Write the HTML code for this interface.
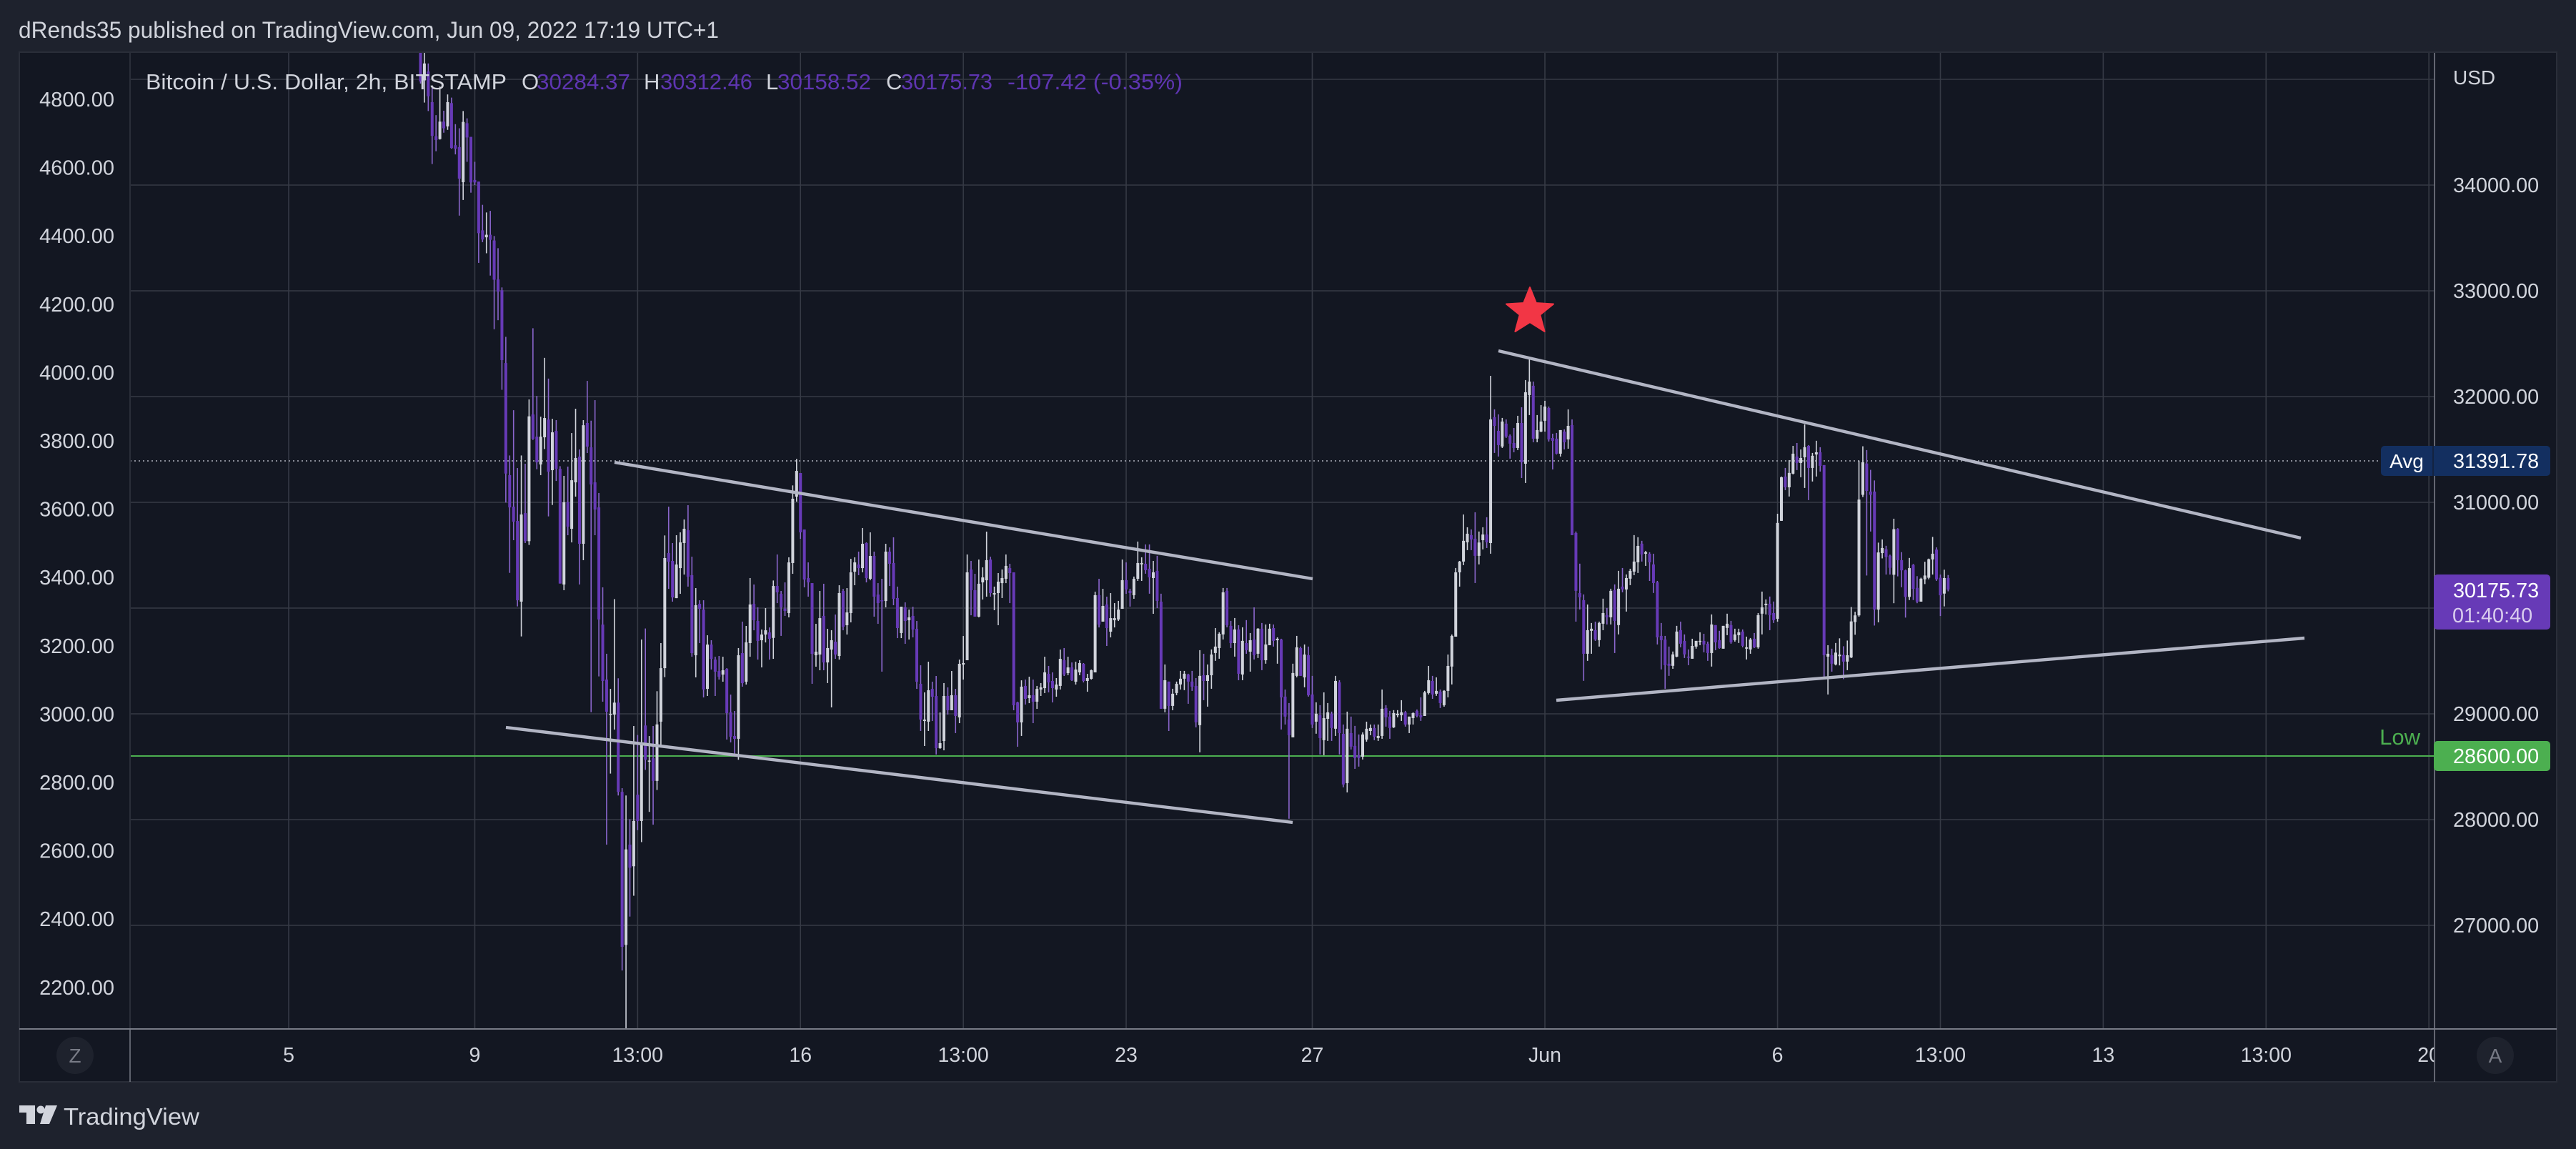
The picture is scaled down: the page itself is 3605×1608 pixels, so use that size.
<!DOCTYPE html>
<html lang="en">
<head>
<meta charset="utf-8">
<title>Bitcoin / U.S. Dollar chart</title>
<style>
html,body{margin:0;padding:0;background:#1e222d;}
svg{display:block;}
text{font-family:"Liberation Sans",sans-serif;fill:#d1d4dc;}
</style>
</head>
<body>
<svg id="chart" xmlns="http://www.w3.org/2000/svg" width="3605" height="1608" viewBox="0 0 3605 1608">
  <defs>
    <clipPath id="plot-clip"><rect x="182" y="74" width="3225" height="1366"/></clipPath>
    <clipPath id="time-clip"><rect x="182" y="1441" width="3225" height="73"/></clipPath>
  </defs>
  <rect x="0" y="0" width="3605" height="1608" fill="#1e222d"/>
  <text x="26" y="53" font-size="32" textLength="980" lengthAdjust="spacingAndGlyphs">dRends35 published on TradingView.com, Jun 09, 2022 17:19 UTC+1</text>
  <rect x="27" y="73" width="3551" height="1441" fill="#131722" stroke="#2a2e39" stroke-width="2"/>

  <g id="grid"></g>
  <line x1="182" y1="645" x2="3332" y2="645" stroke="#8a8d98" stroke-width="2" stroke-dasharray="2 4"/>
  <line x1="182" y1="1058" x2="3407" y2="1058" stroke="#4caf50" stroke-width="2"/>
  <g id="candles" clip-path="url(#plot-clip)"></g>

  <g stroke="#b2b5c4" stroke-width="4.4">
    <line x1="860" y1="647" x2="1837" y2="810"/>
    <line x1="708" y1="1018" x2="1809" y2="1151"/>
    <line x1="2097" y1="491" x2="3220" y2="753"/>
    <line x1="2178" y1="980" x2="3225" y2="893"/>
  </g>
  <polygon points="2141,402 2149.8,424 2174,425.5 2155.3,440.6 2161.6,464 2141,451 2120.4,464 2126.7,440.6 2108,425.5 2132.2,424" fill="#f23645" stroke="#f23645" stroke-width="2" stroke-linejoin="round"/>

  <g font-size="31">
    <text x="204" y="125" textLength="505" lengthAdjust="spacingAndGlyphs">Bitcoin / U.S. Dollar, 2h, BITSTAMP</text>
    <text x="730" y="125">O</text>
    <text x="751" y="125" textLength="131" lengthAdjust="spacingAndGlyphs" style="fill:#5e35b1">30284.37</text>
    <text x="901" y="125">H</text>
    <text x="924" y="125" textLength="129" lengthAdjust="spacingAndGlyphs" style="fill:#5e35b1">30312.46</text>
    <text x="1072" y="125">L</text>
    <text x="1088" y="125" textLength="131" lengthAdjust="spacingAndGlyphs" style="fill:#5e35b1">30158.52</text>
    <text x="1240" y="125">C</text>
    <text x="1261" y="125" textLength="128" lengthAdjust="spacingAndGlyphs" style="fill:#5e35b1">30175.73</text>
    <text x="1410" y="125" textLength="245" lengthAdjust="spacingAndGlyphs" style="fill:#5e35b1">-107.42 (-0.35%)</text>
  </g>

  <line x1="182" y1="74" x2="182" y2="1440" stroke="#2a2e39" stroke-width="2"/>
  <line x1="182" y1="1440" x2="182" y2="1514" stroke="#787b86" stroke-width="1.5"/>
  <line x1="27" y1="1440" x2="3578" y2="1440" stroke="#787b86" stroke-width="2"/>
  <g id="left-axis"></g>
  <g id="right-axis"></g>
  <g id="time-axis" clip-path="url(#time-clip)"></g>
  <line x1="3407" y1="74" x2="3407" y2="1514" stroke="#787b86" stroke-width="1.6"/>
  <text x="3433" y="118" font-size="28">USD</text>

  <g>
    <rect x="3332" y="624" width="237" height="42" rx="5" fill="#132f60"/>
    <line x1="3405" y1="624" x2="3405" y2="666" stroke="#131722" stroke-width="1"/>
    <text x="3368" y="655" font-size="28" text-anchor="middle" style="fill:#ffffff">Avg</text>
    <text x="3433" y="655" font-size="28.8" style="fill:#ffffff">31391.78</text>
  </g>
  <g>
    <rect x="3406" y="804" width="163" height="77" rx="5" fill="#673ab7"/>
    <text x="3433" y="836" font-size="28.8" style="fill:#ffffff">30175.73</text>
    <text x="3432" y="871" font-size="28.8" style="fill:#d9cdee">01:40:40</text>
  </g>
  <text x="3387" y="1042" font-size="31" text-anchor="end" style="fill:#4caf50">Low</text>
  <g>
    <rect x="3406" y="1037" width="163" height="42" rx="5" fill="#4caf50"/>
    <text x="3433" y="1068" font-size="28.8" style="fill:#ffffff">28600.00</text>
  </g>

  <g>
    <circle cx="105" cy="1477" r="26" fill="#1e222d"/>
    <text x="105" y="1487" font-size="28" text-anchor="middle" style="fill:#787b86">Z</text>
  </g>
  <g>
    <circle cx="3492" cy="1477" r="26" fill="#1e222d"/>
    <text x="3492" y="1487" font-size="28" text-anchor="middle" style="fill:#787b86">A</text>
  </g>

  <g>
    <path fill="#d1d4dc" d="M27 1547H49V1573H37V1557H27ZM64 1547H80L69 1573H56Z"/>
    <circle cx="57" cy="1553" r="5.5" fill="#d1d4dc"/>
    <text x="89" y="1574" font-size="33" textLength="190" lengthAdjust="spacingAndGlyphs">TradingView</text>
  </g>
</svg>
<script>
const firstBar = 34;
const opens = [
35400,34990,35074,34784,34462,34435,34600,34555,34775,34377,
34359,34027,34585,34456,34048,34033,33572,33506,33530,33476,
33108,33005,32317,31257,30959,30824,30061,30898,30633,31831,
31621,31358,31615,31783,31304,31675,31317,30223,31000,30750,
31189,31432,30608,31750,31520,31189,30952,29844,29324,28995,
28993,29106,28262,26815,27763,27559,28235,27987,28890,28548,
28580,28366,28926,29432,30520,30446,30094,30378,30615,30736,
30311,29554,30040,29986,29236,29655,29513,29405,29371,29425,
29014,28790,28764,29574,29304,29669,30040,29878,29696,29750,
29770,29718,30209,30135,29995,29953,30426,31054,31277,30743,
30284,30236,29554,29561,29926,29486,29608,29682,29547,30162,
29838,29953,30344,30412,30378,30615,30277,30493,30128,30074,
30067,30534,30426,30095,29764,30007,29885,29926,29804,29284,
28932,28926,29236,29169,28676,28743,29169,29034,29176,28966,
29466,29507,30365,30169,29919,30243,30263,30459,30128,30142,
30236,30277,30378,30338,29108,28919,29264,29149,29176,29115,
29230,29243,29378,29311,29230,29264,29507,29385,29439,29304,
29392,29473,29311,29331,29392,30122,29872,30034,29777,29885,
29892,29993,30264,30163,30122,30277,30413,30419,30372,30284,
30352,30061,29048,29305,29075,29197,29278,29332,29372,29305,
29264,28893,29365,29311,29365,29575,29622,29751,30163,29832,
29669,29798,29372,29669,29588,29703,29568,29805,29507,29649,
29811,29696,29703,29163,28947,28778,29359,29622,29345,29555,
29183,28926,28987,28751,28953,29001,28859,29298,28811,28345,
28818,28697,28609,28595,28757,28838,28866,28771,28791,29055,
28974,28872,28987,28987,29014,28899,28960,29028,28987,28980,
29197,29311,29190,29210,29082,29217,29447,29730,30338,30440,
30622,30690,30656,30494,30642,30696,30615,31805,31676,31528,
31744,31629,31561,31514,31750,31365,32014,32102,31602,31669,
31771,31892,31608,31602,31460,31669,31595,31730,30710,30142,
30075,29568,29785,29791,29697,29852,29933,29913,30170,29839,
30203,30176,30278,30345,30433,30609,30514,30514,30413,30244,
29737,29703,29474,29454,29541,29791,29690,29541,29521,29636,
29683,29690,29663,29575,29839,29697,29616,29812,29839,29697,
29744,29778,29616,29609,29710,29629,29947,30028,30041,29953,
29899,30825,31244,31142,31271,31433,31372,31426,31534,31325,
31453,31473,31352,29541,29555,29467,29545,29557,29494,29533,
29868,29931,31071,31367,31102,31102,29986,30520,30556,30495,
30315,30749,30453,30357,30106,30408,30191,30061,30272,30287,
30460,30553,30287,30137,30284.37];
const highs = [
35500,35300,35150,34917,34661,34932,34703,34857,34827,34576,
34537,34700,34631,34456,34220,34033,33813,33741,33756,33518,
33403,33032,32565,31443,31871,31324,31443,31365,31973,32646,
32006,31810,32366,32170,31790,31777,31342,31250,31338,31655,
31885,31500,31777,32148,31772,31966,31088,30196,29568,29236,
30085,29336,28297,28228,28004,28885,28800,29703,29807,28790,
28885,29214,29669,30687,30959,30615,30689,30716,30838,30973,
30486,30189,30074,30074,29743,29696,29540,29547,29540,29432,
29182,29027,29622,29872,29831,30284,30223,30007,29797,30000,
29817,30261,30507,30162,30243,30480,31160,31410,31277,30743,
30432,30236,29851,30162,30230,29804,29791,29939,30216,30182,
30189,30466,30480,30534,30757,30621,30716,30534,30236,30277,
30608,30574,30669,30203,30013,30054,29986,30013,29878,29459,
29203,29493,29304,29358,29013,29291,29250,29405,29236,29513,
29736,30507,30446,30324,30459,30385,30723,30486,30203,30331,
30365,30507,30419,30338,29115,29317,29324,29351,29324,29264,
29291,29540,29453,29392,29338,29608,29622,29540,29486,29493,
29507,29480,29378,29419,30155,30277,30182,30108,30142,30047,
30068,30459,30432,30183,30298,30629,30480,30602,30602,30446,
30494,30136,29467,29305,29237,29305,29406,29406,29379,29406,
29338,29602,29568,29467,29609,29811,29771,30190,30190,29879,
29906,29838,29818,29886,29764,30007,29811,29859,29845,29852,
29845,29723,29710,29230,29102,29474,29737,29636,29656,29636,
29359,29109,29082,29203,29102,29021,29359,29318,28899,29021,
28974,28886,28805,28825,28926,28899,28899,28899,29230,29082,
29028,29035,29035,29129,29028,28974,29014,29041,29156,29217,
29453,29359,29345,29230,29224,29561,29750,30379,30446,30885,
30764,30744,30906,30724,30764,30859,32196,31879,31832,31798,
31784,31642,31703,31818,31899,32156,32368,32142,31825,31919,
31960,31906,31649,31656,31683,31690,31879,31784,30724,30420,
30129,30034,29859,29872,29872,30089,30001,30183,30224,30352,
30379,30318,30372,30690,30670,30636,30541,30528,30514,30257,
29859,29737,29636,29589,29832,29872,29751,29609,29710,29690,
29771,29757,29683,29940,29839,29785,29832,29947,29879,29805,
29805,29798,29730,29717,29764,29953,30156,30082,30109,30062,
30892,31244,31325,31399,31534,31561,31500,31737,31541,31467,
31582,31521,31352,29649,29616,29670,29714,29639,29693,30010,
29965,31394,31530,31494,31307,31207,30619,30649,30589,30505,
30845,30755,30529,30363,30474,30417,30302,30287,30438,30468,
30673,30574,30317,30363,30312.46];
const lows = [
34960,34780,34700,34199,34320,34430,34495,34522,34344,34290,
33711,33859,34220,33928,34000,33264,33460,33355,33144,32637,
32722,32064,30998,30333,30642,30016,29732,30615,30597,31590,
31313,31257,31504,30867,30975,31202,30232,30169,30689,30621,
31054,30223,30453,31466,29016,30689,29354,29115,27763,28435,
28851,28228,26573,25900,27083,27280,27900,27787,28470,28073,
27952,28280,28700,29347,30182,30061,30094,30135,30317,30203,
29540,29345,29669,29155,29169,29419,29169,29324,29304,28757,
28730,28622,28566,29257,29277,29540,29790,29513,29439,29675,
29513,29520,30047,29737,29926,29912,30324,31007,30655,30196,
30108,29284,29446,29412,29412,29291,29061,29520,29513,29790,
29750,29865,30216,30311,30338,30243,30263,29919,29851,29399,
30007,30209,30027,29716,29716,29662,29703,29723,29236,28838,
28696,28838,28932,28615,28669,28655,28993,29034,28818,28912,
29324,29507,29932,29919,29912,30081,30108,30108,29980,29838,
30095,30236,30047,29034,28689,28791,29088,29101,28912,29047,
29169,29196,29203,29108,29162,29230,29358,29365,29311,29277,
29365,29297,29209,29324,29392,29817,29872,29642,29723,29817,
29878,29993,30135,30014,30088,30257,30257,30325,30136,29946,
30000,29048,29014,28838,29034,29176,29230,29224,29095,29217,
28872,28636,29129,29068,29237,29501,29521,29703,29818,29622,
29541,29318,29318,29568,29399,29514,29528,29413,29474,29649,
29636,29474,28852,28899,28008,28778,29345,29359,29251,29163,
28866,28812,28616,28609,28744,28744,28791,28616,28305,28257,
28663,28480,28501,28568,28737,28798,28751,28744,28764,28879,
28764,28866,28967,28933,28879,28818,28899,28967,28933,28980,
29183,29142,29170,29055,29068,29156,29278,29730,30203,30406,
30548,30548,30237,30413,30555,30568,30514,31467,31433,31514,
31609,31413,31473,31494,31230,31183,31825,31568,31568,31663,
31669,31575,31311,31453,31433,31500,31507,30690,29872,29987,
29312,29501,29568,29690,29636,29791,29845,29845,29575,29751,
30149,29967,30217,30311,30332,30440,30399,30257,30143,29656,
29420,29237,29359,29426,29535,29629,29528,29460,29521,29616,
29649,29582,29501,29447,29602,29616,29616,29744,29663,29683,
29670,29629,29514,29568,29622,29616,29751,29940,29791,29859,
29872,30825,31115,31055,31264,31305,31237,31136,31021,31197,
31244,31291,29352,29183,29399,29458,29458,29328,29413,29527,
29748,29919,31050,30308,30724,29835,29865,30470,30317,30317,
30046,30300,30197,29910,30076,30076,30046,30061,30227,30272,
30317,30257,29925,30016,30158.52];
const closes = [
34980,35150,34840,34465,34426,34600,34537,34784,34350,34344,
34061,34597,34450,34025,34025,33545,33485,33530,33482,33105,
32993,32345,31272,30952,30817,30074,30885,30633,31813,31601,
31378,31621,31797,31290,31662,31317,30232,31000,30770,31209,
31419,30608,31729,31527,31169,30932,29892,29311,29020,29000,
29106,28262,26797,27718,27545,27987,27987,28728,28566,28558,
28366,28900,29432,30473,30439,30101,30412,30621,30750,30297,
29574,30027,29993,29230,29655,29520,29399,29351,29412,29007,
28784,28764,29554,29290,29676,30034,29885,29689,29750,29790,
29709,30209,30149,30007,29973,30432,31034,31297,30716,30270,
30243,29567,29588,29905,29486,29622,29696,29561,30142,29824,
29959,30338,30432,30378,30608,30284,30493,30108,30047,30067,
30534,30419,30088,29811,30013,29878,29912,29797,29304,28946,
28946,29223,29162,28676,28723,29169,29034,29176,28980,29473,
29480,30338,30169,29919,30230,30290,30453,30142,30142,30250,
30284,30399,30331,29081,28919,29257,29142,29176,29115,29236,
29250,29392,29297,29243,29277,29520,29372,29439,29318,29419,
29480,29311,29338,29412,30122,29844,30020,29811,29905,29905,
29986,30264,30176,30142,30277,30426,30426,30359,30291,30338,
30068,29048,29318,29075,29190,29284,29332,29379,29305,29257,
28920,29359,29311,29365,29561,29636,29757,30149,29838,29669,
29798,29379,29690,29602,29696,29555,29805,29507,29656,29805,
29690,29710,29156,28974,28798,29386,29629,29359,29561,29176,
28899,29001,28771,28960,29014,28866,29311,28818,28332,28859,
28690,28582,28582,28805,28859,28866,28784,28791,29048,28967,
28866,29007,29001,29014,28899,28974,29007,28980,28967,29203,
29318,29183,29217,29102,29217,29453,29737,30338,30440,30636,
30703,30649,30494,30620,30696,30622,31784,31723,31541,31764,
31622,31555,31514,31750,31379,32041,32142,31602,31683,31764,
31906,31595,31582,31460,31683,31568,31723,30690,30163,30102,
29568,29791,29805,29703,29859,29953,29913,30163,29879,30183,
30176,30284,30352,30440,30588,30507,30528,30433,30237,29724,
29697,29460,29454,29562,29778,29663,29562,29535,29642,29690,
29690,29656,29575,29845,29676,29622,29832,29852,29676,29751,
29771,29643,29629,29703,29629,29933,30007,30041,29933,29886,
30805,31237,31142,31278,31460,31372,31419,31521,31325,31440,
31473,31345,29555,29568,29474,29579,29560,29494,29554,29874,
29931,31026,31379,31108,31071,29986,30526,30568,30483,30381,
30746,30453,30357,30106,30378,30182,30061,30278,30308,30462,
30514,30272,30121,30284,30175.73];
const gridPrices = [35000,34000,33000,32000,31000,30000,29000,28000,27000];
const rightAxisTicks = [34000,33000,32000,31000,30000,29000,28000,27000];
const leftAxisTicks = [4800,4600,4400,4200,4000,3800,3600,3400,3200,3000,2800,2600,2400,2200];
const timeTickBars = [0,48,90,132,174,216,264,324,384,426,468,510,552];
const timeTickLabels = ['5','9','13:00','16','13:00','23','27','Jun','6','13:00','13','13:00','20'];

const NS = 'http://www.w3.org/2000/svg';
function xOfBar(i){ return 404 + 5.426 * i; }
function yOfPrice(p){ return 851 - (p - 30000) * 0.148; }
function yOfLeft(v){ return 139 + (4800 - v) * 0.478; }
function make(tag, attrs){
  const el = document.createElementNS(NS, tag);
  for (const k in attrs) el.setAttribute(k, attrs[k]);
  return el;
}

const gridGroup = document.getElementById('grid');
gridPrices.forEach(function(p){
  const l = make('line', {x1:182, x2:3407, y1:yOfPrice(p), y2:yOfPrice(p), stroke:'#363a45', 'stroke-width':1.6});
  
  
  gridGroup.appendChild(l);
});
timeTickBars.forEach(function(b){
  const l = make('line', {x1:xOfBar(b), x2:xOfBar(b), y1:74, y2:1440, stroke:'#363a45', 'stroke-width':1.6});
  
  
  gridGroup.appendChild(l);
});

const candleGroup = document.getElementById('candles');
opens.forEach(function(o, n){
  const i = firstBar + n;
  const c = closes[n];
  const up = c >= o;
  const x = xOfBar(i);
  const g = make('g', {});
  
  
  const wick = make('rect', {x:x - 0.8, width:1.6, y:yOfPrice(highs[n]), height:yOfPrice(lows[n]) - yOfPrice(highs[n]), fill: up ? '#d1d4dc' : '#8a66cc'});
  
  
  g.appendChild(wick);
  const top = yOfPrice(Math.max(o, c));
  const bot = yOfPrice(Math.min(o, c));
  const body = make('rect', {x:x - 2, width:4, y:top, height:Math.max(bot - top, 1.5), fill: up ? '#d1d4dc' : '#673ab7'});
  
  
  g.appendChild(body);
  candleGroup.appendChild(g);
});

const rightAxis = document.getElementById('right-axis');
rightAxisTicks.forEach(function(v){
  const t = make('text', {x:3433, y:yOfPrice(v) + 10, 'font-size':28.8});
  
  
  t.textContent = v.toFixed(2);
  rightAxis.appendChild(t);
});

const leftAxis = document.getElementById('left-axis');
leftAxisTicks.forEach(function(v){
  const t = make('text', {x:160, y:yOfLeft(v) + 10, 'font-size':29, 'text-anchor':'end'});
  
  
  t.textContent = v.toFixed(2);
  leftAxis.appendChild(t);
});

const timeAxis = document.getElementById('time-axis');
timeTickBars.forEach(function(b, n){
  const t = make('text', {x:xOfBar(b), y:1486, 'font-size':28.5, 'text-anchor':'middle'});
  
  
  t.textContent = timeTickLabels[n];
  timeAxis.appendChild(t);
});
</script>
</body>
</html>
